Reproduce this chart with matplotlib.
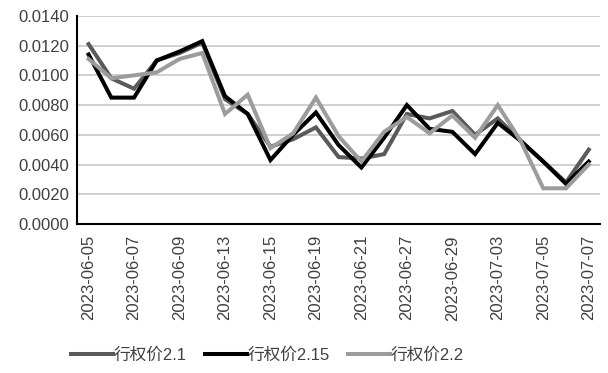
import matplotlib
matplotlib.use("Agg")
import matplotlib.pyplot as plt
from matplotlib.ticker import FormatStrFormatter

plt.rcParams['font.family'] = ['Liberation Sans', 'Noto Sans CJK SC', 'DejaVu Sans']

dates = ["2023-06-05", "2023-06-06", "2023-06-07", "2023-06-08", "2023-06-09",
         "2023-06-12", "2023-06-13", "2023-06-14", "2023-06-15", "2023-06-16",
         "2023-06-19", "2023-06-20", "2023-06-21", "2023-06-26", "2023-06-27",
         "2023-06-28", "2023-06-29", "2023-06-30", "2023-07-03", "2023-07-04",
         "2023-07-05", "2023-07-06", "2023-07-07"]

strike_21 = [0.0121, 0.0098, 0.0091, 0.0110, 0.0115, 0.0122, 0.0084, 0.0074,
             0.0052, 0.0057, 0.0065, 0.0045, 0.0044, 0.0047, 0.0074, 0.0071,
             0.0076, 0.0060, 0.0071, 0.0056, 0.0042, 0.0028, 0.0050]
strike_215 = [0.0114, 0.0085, 0.0085, 0.0110, 0.0116, 0.0123, 0.0086, 0.0074,
              0.0043, 0.0060, 0.0075, 0.0053, 0.0038, 0.0058, 0.0080, 0.0064,
              0.0062, 0.0047, 0.0068, 0.0056, 0.0042, 0.0027, 0.0042]
strike_22 = [0.0111, 0.0098, 0.0100, 0.0102, 0.0111, 0.0115, 0.0074, 0.0087,
             0.0051, 0.0061, 0.0085, 0.0059, 0.0042, 0.0062, 0.0072, 0.0061,
             0.0073, 0.0058, 0.0080, 0.0056, 0.0024, 0.0024, 0.0040]

labels = ["行权价2.1", "行权价2.15", "行权价2.2"]
colors = ["#5a5a5a", "#000000", "#9c9c9c"]

fig = plt.figure(figsize=(6.08, 3.73), dpi=100)
ax = fig.add_axes([0.127, 0.3995, 0.86, 0.558])

x = range(len(dates))
for ys, lab, c in zip([strike_21, strike_215, strike_22], labels, colors):
    ax.plot(x, ys, color=c, lw=2.9, label=lab, solid_joinstyle="miter")

ax.set_xlim(-0.5, len(dates) - 0.5)
ax.set_ylim(0, 0.014)
ax.set_yticks([i * 0.002 for i in range(8)])
ax.yaxis.set_major_formatter(FormatStrFormatter("%.4f"))
ax.set_xticks(list(x)[::2])
ax.set_xticklabels(dates[::2], rotation=90)
ax.tick_params(axis="both", length=0, labelsize=12, colors="#404040", pad=6)
ax.tick_params(axis="x", pad=8)

ax.grid(axis="y", color="#c8c8c8", lw=1.2)
ax.set_axisbelow(True)
for s in ["top", "right"]:
    ax.spines[s].set_visible(False)
for s in ["left", "bottom"]:
    ax.spines[s].set_color("black")
    ax.spines[s].set_linewidth(1.5)

fig.legend(loc="center", bbox_to_anchor=(0.44, 0.048), ncol=3, frameon=False,
           fontsize=12, handlelength=2.5, handletextpad=0.05, columnspacing=1.1,
           labelcolor="#404040")

fig.savefig("out.png", dpi=100)
